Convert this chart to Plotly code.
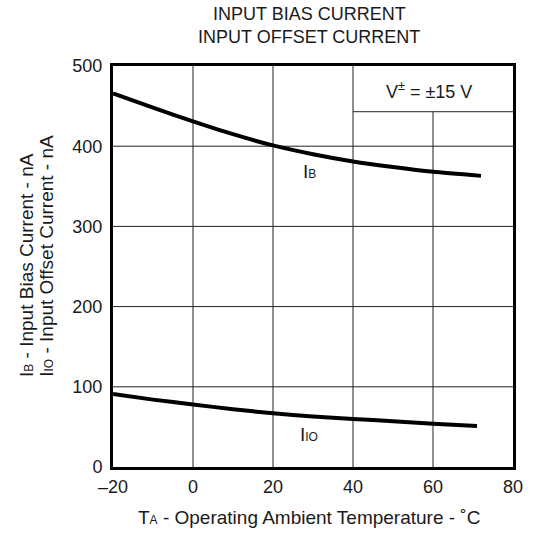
import plotly.graph_objects as go

# Data
temp_ib = [-20, -10, 0, 10, 20, 30, 40, 50, 60, 72]
ib_na = [466, 448, 431, 415, 401, 390, 381, 374, 368, 363]
temp_io = [-20, -10, 0, 10, 20, 30, 40, 50, 60, 71]
iio_na = [91, 84, 78, 72, 67, 63, 60, 57, 54, 51]

x_ticks = [-20, 0, 20, 40, 60, 80]
x_ticktext = ["\u201320", "0", "20", "40", "60", "80"]
y_ticks = [0, 100, 200, 300, 400, 500]

FONT = "Liberation Sans, Arial, sans-serif"
TXT = "#1a1a1a"

fig = go.Figure()
for xs, ys in [(temp_ib, ib_na), (temp_io, iio_na)]:
    fig.add_trace(go.Scatter(x=xs, y=ys, mode="lines",
                             line=dict(color="black", width=4, shape="spline", smoothing=0.6),
                             hoverinfo="skip", showlegend=False))

grid = dict(color="#222222", width=1)
shapes = []
for xv in [0, 20, 40]:
    shapes.append(dict(type="line", xref="x", yref="y", x0=xv, x1=xv, y0=0, y1=500, line=grid, layer="below"))
shapes.append(dict(type="line", xref="x", yref="y", x0=60, x1=60, y0=0, y1=443, line=grid, layer="below"))
for yv in [100, 200, 300, 400]:
    shapes.append(dict(type="line", xref="x", yref="y", x0=-20, x1=80, y0=yv, y1=yv, line=grid, layer="below"))
shapes.append(dict(type="line", xref="x", yref="y", x0=40, x1=80, y0=443, y1=443, line=grid, layer="below"))

annotations = [
    dict(text="INPUT BIAS CURRENT", xref="paper", yref="paper",
         x=0.491, y=1.1297, xanchor="center", yanchor="middle", showarrow=False,
         font=dict(family=FONT, size=18, color=TXT)),
    dict(text="INPUT OFFSET CURRENT", xref="paper", yref="paper",
         x=0.491, y=1.0723, xanchor="center", yanchor="middle", showarrow=False,
         font=dict(family=FONT, size=18, color=TXT)),
    dict(text="V<sup>\u00b1</sup> = \u00b115 V", xref="x", yref="y", x=59, y=470,
         xanchor="center", yanchor="middle", showarrow=False,
         font=dict(family=FONT, size=18, color=TXT)),
    dict(text="I<span style='font-size:12px'>B</span>", xref="x", yref="y", x=29, y=368,
         xanchor="center", yanchor="middle", showarrow=False,
         font=dict(family=FONT, size=19, color=TXT)),
    dict(text="I<span style='font-size:12px'>IO</span>", xref="x", yref="y", x=29, y=41,
         xanchor="center", yanchor="middle", showarrow=False,
         font=dict(family=FONT, size=19, color=TXT)),
    dict(text="T<span style='font-size:12px'>A</span> - Operating Ambient Temperature - \u02daC",
         xref="paper", yref="paper", x=0.491, y=-0.127, xanchor="center", yanchor="middle",
         showarrow=False, font=dict(family=FONT, size=19, color=TXT)),
    dict(text="I<span style='font-size:12px'>B</span> - Input Bias Current - nA",
         xref="paper", yref="paper", x=-0.218, y=0.219, xanchor="center", yanchor="bottom",
         textangle=-90, showarrow=False, font=dict(family=FONT, size=19, color=TXT)),
    dict(text="I<span style='font-size:12px'>IO</span> - Input Offset Current - nA",
         xref="paper", yref="paper", x=-0.166, y=0.219, xanchor="center", yanchor="bottom",
         textangle=-90, showarrow=False, font=dict(family=FONT, size=19, color=TXT)),
]

fig.update_layout(
    width=535, height=538,
    margin=dict(l=113, r=19, t=66, b=71),
    paper_bgcolor="white", plot_bgcolor="white",
    font=dict(family=FONT, size=18, color=TXT),
    shapes=shapes, annotations=annotations,
    xaxis=dict(range=[-20, 80], tickvals=x_ticks, ticktext=x_ticktext, showgrid=False,
               zeroline=False, showline=True, linecolor="black", linewidth=3, mirror=True,
               ticks="", ticklabelstandoff=1, fixedrange=True),
    yaxis=dict(range=[0, 500], tickvals=y_ticks, showgrid=False, zeroline=False,
               showline=True, linecolor="black", linewidth=3, mirror=True,
               ticks="", ticklabelstandoff=4, fixedrange=True),
)

fig.write_html("out.html",
               config={"displayModeBar": False},
               post_script="document.body.style.margin='0';document.body.style.padding='0';"
                           "document.body.style.overflow='hidden';")
